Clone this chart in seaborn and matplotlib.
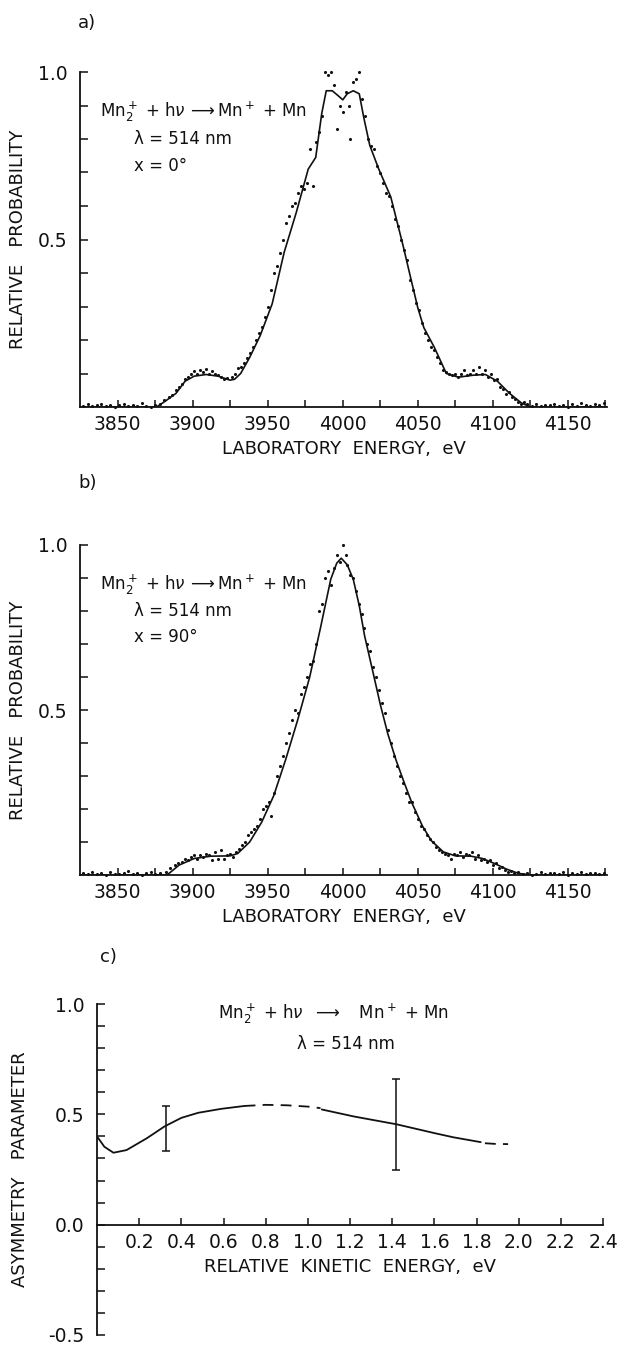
import numpy as np
import pandas as pd
import matplotlib
matplotlib.use("Agg")
import matplotlib.pyplot as plt
import seaborn as sns

# ---------------- data ----------------
# Panel a: fitted curve (chi = 0 deg)
a_curve_x = [3825, 3850, 3876, 3882, 3889, 3895, 3901, 3909, 3917, 3925, 3928, 3932, 3938, 3945,
             3953, 3961, 3969, 3977, 3982, 3986, 3989, 3993, 3997, 4000, 4003, 4007, 4011, 4014,
             4018, 4024, 4032, 4040, 4045, 4050, 4054, 4061, 4069, 4077, 4087, 4095, 4103, 4111,
             4119, 4125, 4150, 4175]
a_curve_y = [0.0, 0.0, 0.0, 0.018, 0.041, 0.077, 0.092, 0.097, 0.092, 0.080, 0.083, 0.10, 0.148, 0.213,
             0.308, 0.462, 0.58, 0.71, 0.745, 0.876, 0.944, 0.944, 0.929, 0.917, 0.935, 0.944, 0.935, 0.864,
             0.781, 0.71, 0.627, 0.485, 0.39, 0.296, 0.237, 0.178, 0.10, 0.089, 0.095, 0.097, 0.077, 0.041,
             0.012, 0.0, 0.0, 0.0]
# Panel a: measured points
a_pts_x = [3827, 3830, 3833, 3836, 3839, 3842, 3845, 3848, 3851, 3854, 3857, 3860, 3863, 3866, 3869, 3872, 3875,
           3878, 3881, 3884, 3886, 3889, 3891, 3893, 3895, 3897, 3899, 3901, 3903, 3905, 3907, 3909, 3911, 3913,
           3915, 3917, 3919, 3921, 3923, 3926, 3928, 3930, 3932, 3934, 3936, 3938, 3940, 3942, 3944, 3946, 3948,
           3950, 3952, 3954, 3956, 3958, 3960, 3962, 3964, 3966, 3968, 3970, 3972, 3974, 3976, 3978, 3980, 3982,
           3984, 3986, 3988, 3990, 3992, 3994, 3996, 3998, 4000, 4002, 4004, 4005, 4007, 4009, 4011, 4013, 4015,
           4017, 4019, 4021, 4023, 4025, 4027, 4029, 4031, 4033, 4035, 4037, 4039, 4041, 4043, 4045, 4047, 4049,
           4051, 4053, 4055, 4057, 4059, 4061, 4063, 4065, 4067, 4069, 4071, 4073, 4075, 4077, 4079, 4081, 4083,
           4085, 4087, 4089, 4091, 4093, 4095, 4097, 4099, 4101, 4103, 4105, 4107, 4109, 4111, 4113, 4115, 4117,
           4119, 4121, 4123, 4126, 4129, 4132, 4135, 4138, 4141, 4144, 4147, 4150, 4153, 4156, 4159, 4162, 4165,
           4168, 4171, 4174]
a_pts_y = [0.004, 0.008, 0.002, 0.006, 0.010, 0.003, 0.007, 0.0, 0.005, 0.009, 0.002, 0.006, 0.004, 0.011, 0.003, 0.0, 0.005,
           0.008, 0.020, 0.030, 0.035, 0.050, 0.060, 0.070, 0.085, 0.090, 0.100, 0.108, 0.100, 0.110, 0.105, 0.112, 0.100, 0.108,
           0.100, 0.095, 0.090, 0.085, 0.088, 0.090, 0.100, 0.115, 0.120, 0.130, 0.145, 0.160, 0.180, 0.200, 0.220, 0.240, 0.270,
           0.300, 0.350, 0.400, 0.420, 0.460, 0.500, 0.550, 0.570, 0.600, 0.610, 0.640, 0.660, 0.650, 0.670, 0.770, 0.660, 0.790,
           0.820, 0.870, 1.000, 0.990, 1.000, 0.960, 0.830, 0.900, 0.880, 0.940, 0.900, 0.800, 0.970, 0.980, 1.000, 0.920, 0.870,
           0.800, 0.780, 0.770, 0.720, 0.700, 0.670, 0.640, 0.630, 0.600, 0.560, 0.540, 0.500, 0.470, 0.440, 0.380, 0.350, 0.310,
           0.290, 0.250, 0.220, 0.200, 0.180, 0.170, 0.150, 0.130, 0.110, 0.105, 0.100, 0.095, 0.100, 0.090, 0.100, 0.110, 0.095,
           0.100, 0.110, 0.100, 0.120, 0.100, 0.110, 0.090, 0.100, 0.080, 0.085, 0.060, 0.055, 0.040, 0.045, 0.030, 0.025, 0.015,
           0.010, 0.015, 0.008, 0.004, 0.009, 0.002, 0.007, 0.005, 0.010, 0.003, 0.006, 0.0, 0.008, 0.004, 0.011, 0.005, 0.003,
           0.009, 0.006, 0.012]

# Panel b: fitted curve (chi = 90 deg)
b_curve_x = [3825, 3850, 3883, 3891, 3901, 3912, 3925, 3930, 3938, 3946, 3954, 3962, 3970, 3978, 3985.5,
             3992, 3996, 3999, 4003, 4007, 4011, 4014.5, 4020, 4025, 4030, 4035.5, 4041, 4046, 4053, 4059,
             4067, 4075, 4085.5, 4093, 4101, 4109, 4117, 4125, 4150, 4175]
b_curve_y = [0.0, 0.0, 0.0, 0.03, 0.05, 0.057, 0.058, 0.065, 0.10, 0.16, 0.24, 0.35, 0.47, 0.60, 0.756,
             0.896, 0.945, 0.96, 0.94, 0.896, 0.816, 0.726, 0.617, 0.517, 0.428, 0.348, 0.279, 0.219, 0.149, 0.104,
             0.07, 0.058, 0.057, 0.05, 0.035, 0.018, 0.005, 0.0, 0.0, 0.0]
# Panel b: measured points
b_pts_x = [3827, 3830, 3833, 3836, 3839, 3842, 3845, 3848, 3851, 3854, 3857, 3860, 3863, 3866, 3869, 3872, 3875, 3878,
           3882, 3885, 3888, 3890, 3893, 3895, 3897, 3899, 3901, 3903, 3905, 3907, 3909, 3911, 3913, 3915, 3917, 3919,
           3921, 3923, 3925, 3927, 3929, 3931, 3933, 3935, 3937, 3939, 3941, 3943, 3945, 3947, 3949, 3951, 3952, 3954,
           3956, 3958, 3960, 3962, 3964, 3966, 3968, 3970, 3972, 3974, 3976, 3978, 3980, 3982, 3984, 3986, 3988, 3990,
           3992, 3994, 3996, 3998, 4000, 4002, 4003, 4005, 4007, 4009, 4011, 4013, 4014, 4016, 4018, 4020, 4022, 4024,
           4026, 4028, 4030, 4032, 4034, 4036, 4038, 4040, 4042, 4044, 4046, 4048, 4050, 4052, 4054, 4056, 4058, 4060,
           4062, 4064, 4066, 4068, 4070, 4072, 4074, 4076, 4078, 4080, 4082, 4084, 4086, 4088, 4090, 4092, 4094, 4096,
           4098, 4100, 4102, 4104, 4106, 4108, 4110, 4112, 4114, 4117, 4120, 4123, 4126, 4129, 4132, 4135, 4138, 4141,
           4144, 4147, 4150, 4153, 4156, 4159, 4162, 4165, 4168, 4171, 4174]
b_pts_y = [0.005, 0.002, 0.008, 0.003, 0.006, 0.0, 0.009, 0.004, 0.002, 0.007, 0.012, 0.003, 0.006, 0.0, 0.005, 0.008, 0.002, 0.006,
           0.010, 0.020, 0.030, 0.035, 0.040, 0.050, 0.045, 0.055, 0.060, 0.050, 0.060, 0.055, 0.065, 0.060, 0.045, 0.070, 0.050, 0.075,
           0.050, 0.060, 0.065, 0.055, 0.070, 0.080, 0.090, 0.100, 0.120, 0.130, 0.140, 0.150, 0.170, 0.200, 0.210, 0.220, 0.180, 0.250,
           0.300, 0.330, 0.360, 0.400, 0.430, 0.470, 0.500, 0.490, 0.550, 0.570, 0.600, 0.640, 0.650, 0.700, 0.800, 0.820, 0.900, 0.920,
           0.880, 0.930, 0.970, 0.950, 1.000, 0.970, 0.940, 0.910, 0.900, 0.860, 0.820, 0.790, 0.750, 0.700, 0.680, 0.630, 0.600, 0.560,
           0.520, 0.490, 0.440, 0.400, 0.360, 0.330, 0.300, 0.280, 0.250, 0.220, 0.220, 0.190, 0.170, 0.150, 0.140, 0.120, 0.110, 0.100,
           0.085, 0.075, 0.070, 0.065, 0.060, 0.050, 0.065, 0.060, 0.070, 0.055, 0.065, 0.060, 0.070, 0.050, 0.060, 0.045, 0.050, 0.040,
           0.045, 0.030, 0.035, 0.020, 0.025, 0.015, 0.010, 0.012, 0.005, 0.008, 0.003, 0.006, 0.0, 0.004, 0.009, 0.002, 0.005, 0.007,
           0.003, 0.008, 0.0, 0.006, 0.004, 0.010, 0.002, 0.005, 0.007, 0.003, 0.006]

# Panel c: asymmetry parameter vs relative kinetic energy
c_solid1_x = [0.0, 0.035, 0.078, 0.14, 0.237, 0.32, 0.40, 0.48, 0.59, 0.70]
c_solid1_y = [0.40, 0.353, 0.326, 0.338, 0.392, 0.445, 0.484, 0.507, 0.525, 0.538]
c_dash1_x = [0.70, 0.80, 0.90, 1.00, 1.06]
c_dash1_y = [0.538, 0.543, 0.541, 0.535, 0.528]
c_solid2_x = [1.066, 1.22, 1.42, 1.60, 1.69, 1.82]
c_solid2_y = [0.522, 0.49, 0.455, 0.415, 0.396, 0.374]
c_dash2_x = [1.84, 1.89, 1.95]
c_dash2_y = [0.369, 0.366, 0.365]
c_err_x = [0.326, 1.42]
c_err_y = [0.445, 0.455]
c_err_lo = [0.335, 0.246]
c_err_hi = [0.540, 0.660]

a_xticks = [3850, 3900, 3950, 4000, 4050, 4100, 4150]
ab_yticks = [0.5, 1.0]
c_xticks = [0.2, 0.4, 0.6, 0.8, 1.0, 1.2, 1.4, 1.6, 1.8, 2.0, 2.2, 2.4]
c_yticks = [-0.5, 0.0, 0.5, 1.0]

# ---------------- style ----------------
sns.set_theme(style="ticks")
plt.rcParams["font.family"] = ["DejaVu Sans"]
plt.rcParams["mathtext.fontset"] = "dejavusans"
BLACK = "#111111"
FS_TICK = 13.5
FS_LAB = 13
FS_ANN = 12

fig = plt.figure(figsize=(6.19, 13.47), dpi=100)
W, H = 619.0, 1347.0

REACTION = r"Mn$_2^+$ + h$\nu\,\longrightarrow$Mn$^+$ + Mn"
REACTION_C = r"Mn$_2^+$ + h$\nu$  $\longrightarrow$   Mn$^+$ + Mn"


def add_axes(left, right, top, bottom):
    return fig.add_axes([left / W, 1 - bottom / H, (right - left) / W, (bottom - top) / H])


def style_axis(ax):
    sns.despine(ax=ax)
    for s in ("left", "bottom"):
        ax.spines[s].set_linewidth(1.3)
        ax.spines[s].set_color(BLACK)
    ax.tick_params(which="both", direction="in", color=BLACK, width=1.1, labelsize=FS_TICK,
                   labelcolor=BLACK)
    ax.tick_params(axis="y", which="major", length=6, pad=9)
    ax.tick_params(axis="y", which="minor", length=6)
    ax.tick_params(axis="x", which="major", length=5, pad=6)
    ax.tick_params(axis="x", which="minor", length=5)
    ax.set_facecolor("white")


def spectrum_panel(ax, cx, cy, px, py, angle_txt):
    sns.scatterplot(x=px, y=py, ax=ax, s=5, color=BLACK, edgecolor=None, linewidth=0, clip_on=False)
    sns.lineplot(x=cx, y=cy, ax=ax, color=BLACK, linewidth=1.2, sort=False)
    ax.set_xlim(3825, 4176)
    ax.set_ylim(0, 1.0)
    ax.set_xticks(a_xticks)
    ax.set_xticks(np.arange(3850, 4176, 25), minor=True)
    ax.set_yticks(ab_yticks)
    ax.set_yticklabels(["0.5", "1.0"])
    ax.set_yticks(np.arange(0.1, 1.0, 0.1), minor=True)
    ax.set_xlabel("LABORATORY  ENERGY,  eV", fontsize=FS_LAB, color=BLACK, labelpad=4)
    ax.set_ylabel("RELATIVE   PROBABILITY", fontsize=FS_LAB, color=BLACK, labelpad=8)
    style_axis(ax)
    ax.text(3838, 0.88, REACTION, fontsize=FS_ANN, color=BLACK, va="center", ha="left")
    ax.text(3861, 0.80, "λ = 514 nm", fontsize=FS_ANN, color=BLACK, va="center", ha="left")
    ax.text(3861, 0.72, angle_txt, fontsize=FS_ANN, color=BLACK, va="center", ha="left")


# Panel a
ax_a = add_axes(80, 607, 72, 407)
spectrum_panel(ax_a, a_curve_x, a_curve_y, a_pts_x, a_pts_y, "x = 0°")
fig.text(78 / W, 1 - 23 / H, "a)", fontsize=FS_LAB, color=BLACK, ha="left", va="center")

# Panel b
ax_b = add_axes(80, 607, 545, 875)
spectrum_panel(ax_b, b_curve_x, b_curve_y, b_pts_x, b_pts_y, "x = 90°")
fig.text(78 / W, 1 - 483 / H, "b)", fontsize=FS_LAB, color=BLACK, ha="left", va="center")

# Panel c
ax_c = add_axes(97, 603, 1004, 1335)
sns.lineplot(x=c_solid1_x, y=c_solid1_y, ax=ax_c, color=BLACK, linewidth=1.3, sort=False)
sns.lineplot(x=c_dash1_x, y=c_dash1_y, ax=ax_c, color=BLACK, linewidth=1.3, sort=False,
             dashes=False, linestyle=(0, (6, 4)))
sns.lineplot(x=c_solid2_x, y=c_solid2_y, ax=ax_c, color=BLACK, linewidth=1.3, sort=False)
sns.lineplot(x=c_dash2_x, y=c_dash2_y, ax=ax_c, color=BLACK, linewidth=1.3, sort=False,
             dashes=False, linestyle=(0, (6, 4)))
yerr = np.array([[y - lo for y, lo in zip(c_err_y, c_err_lo)],
                 [hi - y for y, hi in zip(c_err_y, c_err_hi)]])
ax_c.errorbar(c_err_x, c_err_y, yerr=yerr, fmt="none", ecolor=BLACK, elinewidth=1.1,
              capsize=3, capthick=1.1)
ax_c.set_xlim(0, 2.4)
ax_c.set_ylim(-0.5, 1.0)
ax_c.set_xticks(c_xticks)
ax_c.set_xticklabels([f"{v:.1f}" for v in c_xticks])
ax_c.set_yticks(c_yticks)
ax_c.set_yticklabels(["-0.5", "0.0", "0.5", "1.0"])
ax_c.set_yticks(np.arange(-0.4, 1.0, 0.1), minor=True)
ax_c.set_xlabel("RELATIVE  KINETIC  ENERGY,  eV", fontsize=FS_LAB, color=BLACK, labelpad=4)
ax_c.set_ylabel("ASYMMETRY   PARAMETER", fontsize=FS_LAB, color=BLACK, labelpad=14)
style_axis(ax_c)
ax_c.spines["bottom"].set_position(("data", 0.0))
ax_c.text(1.12, 0.955, REACTION_C, fontsize=FS_ANN, color=BLACK, va="center", ha="center")
ax_c.text(1.18, 0.82, "λ = 514 nm", fontsize=FS_ANN, color=BLACK, va="center", ha="center")
fig.text(100 / W, 1 - 957 / H, "c)", fontsize=FS_LAB, color=BLACK, ha="left", va="center")

fig.savefig("out.png", dpi=100, facecolor="white")
